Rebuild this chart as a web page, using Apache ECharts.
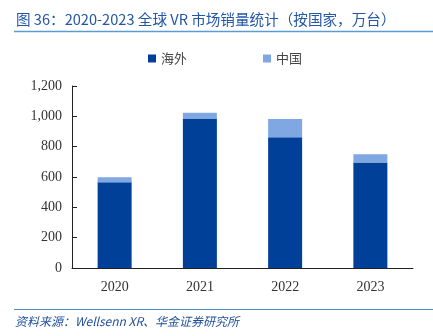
<!DOCTYPE html>
<html>
<head>
<meta charset="utf-8">
<script src="https://cdn.jsdelivr.net/npm/echarts@6/dist/echarts.min.js"></script>
<style>
  html, body { margin: 0; padding: 0; background: #fff; }
  #chart { width: 433px; height: 336px; }
</style>
</head>
<body>
<div id="chart"></div>
<script>
// Global VR shipments by region, 10k units
const years = ['2020', '2021', '2022', '2023'];
const overseas = [565, 985, 862, 695];
const china = [33, 38, 120, 55];
const yTicks = [0, 200, 400, 600, 800, 1000, 1200];

const titleText = '图 36：2020-2023 全球 VR 市场销量统计（按国家，万台）';
const sourceText = '资料来源：Wellsenn XR、华金证券研究所';

const chart = echarts.init(document.getElementById('chart'), null, { renderer: 'canvas' });

chart.setOption({
  animation: false,
  backgroundColor: '#ffffff',
  grid: { left: 72, right: 20, top: 86, bottom: 68 },
  legend: {
    top: 47,
    left: 143,
    itemGap: 76,
    itemWidth: 8,
    itemHeight: 8,
    icon: 'rect',
    textStyle: { fontFamily: 'Noto Sans CJK SC', fontSize: 13, color: '#444' },
    data: ['海外', '中国']
  },
  xAxis: {
    type: 'category',
    data: years,
    axisLine: { lineStyle: { color: '#222', width: 1 } },
    axisTick: { show: false },
    axisLabel: { fontFamily: 'Liberation Serif', fontSize: 14, color: '#333', margin: 12 }
  },
  yAxis: {
    type: 'value',
    min: 0,
    max: yTicks[yTicks.length - 1],
    interval: 200,
    splitLine: { show: false },
    axisLine: { show: true, lineStyle: { color: '#222', width: 1 } },
    axisTick: { show: true, inside: true, length: 5, lineStyle: { color: '#222' } },
    axisLabel: {
      fontFamily: 'Liberation Serif', fontSize: 14, color: '#333', margin: 10,
      formatter: v => v.toLocaleString('en-US')
    }
  },
  series: [
    {
      name: '海外', type: 'bar', stack: 'total', barWidth: 34,
      itemStyle: { color: '#004098' },
      data: overseas
    },
    {
      name: '中国', type: 'bar', stack: 'total', barWidth: 34,
      itemStyle: { color: '#7fa7e2' },
      data: china
    }
  ],
  graphic: [
    {
      type: 'text', left: 16, top: 12,
      style: { text: titleText, fontFamily: 'Noto Sans CJK SC', fontSize: 14.6, fill: '#2256a6' }
    },
    {
      type: 'line', shape: { x1: 14, y1: 31.5, x2: 433, y2: 31.5 },
      style: { stroke: '#5b9bd5', lineWidth: 1.5 }
    },
    {
      type: 'line', shape: { x1: 14, y1: 309.5, x2: 433, y2: 309.5 },
      style: { stroke: '#4a90c8', lineWidth: 1 }
    },
    {
      type: 'text', left: 15, top: 315,
      style: { text: sourceText, fontFamily: 'Noto Sans CJK SC', fontSize: 12, fontStyle: 'italic', fill: '#1f4f9c' }
    }
  ]
});
</script>
</body>
</html>
